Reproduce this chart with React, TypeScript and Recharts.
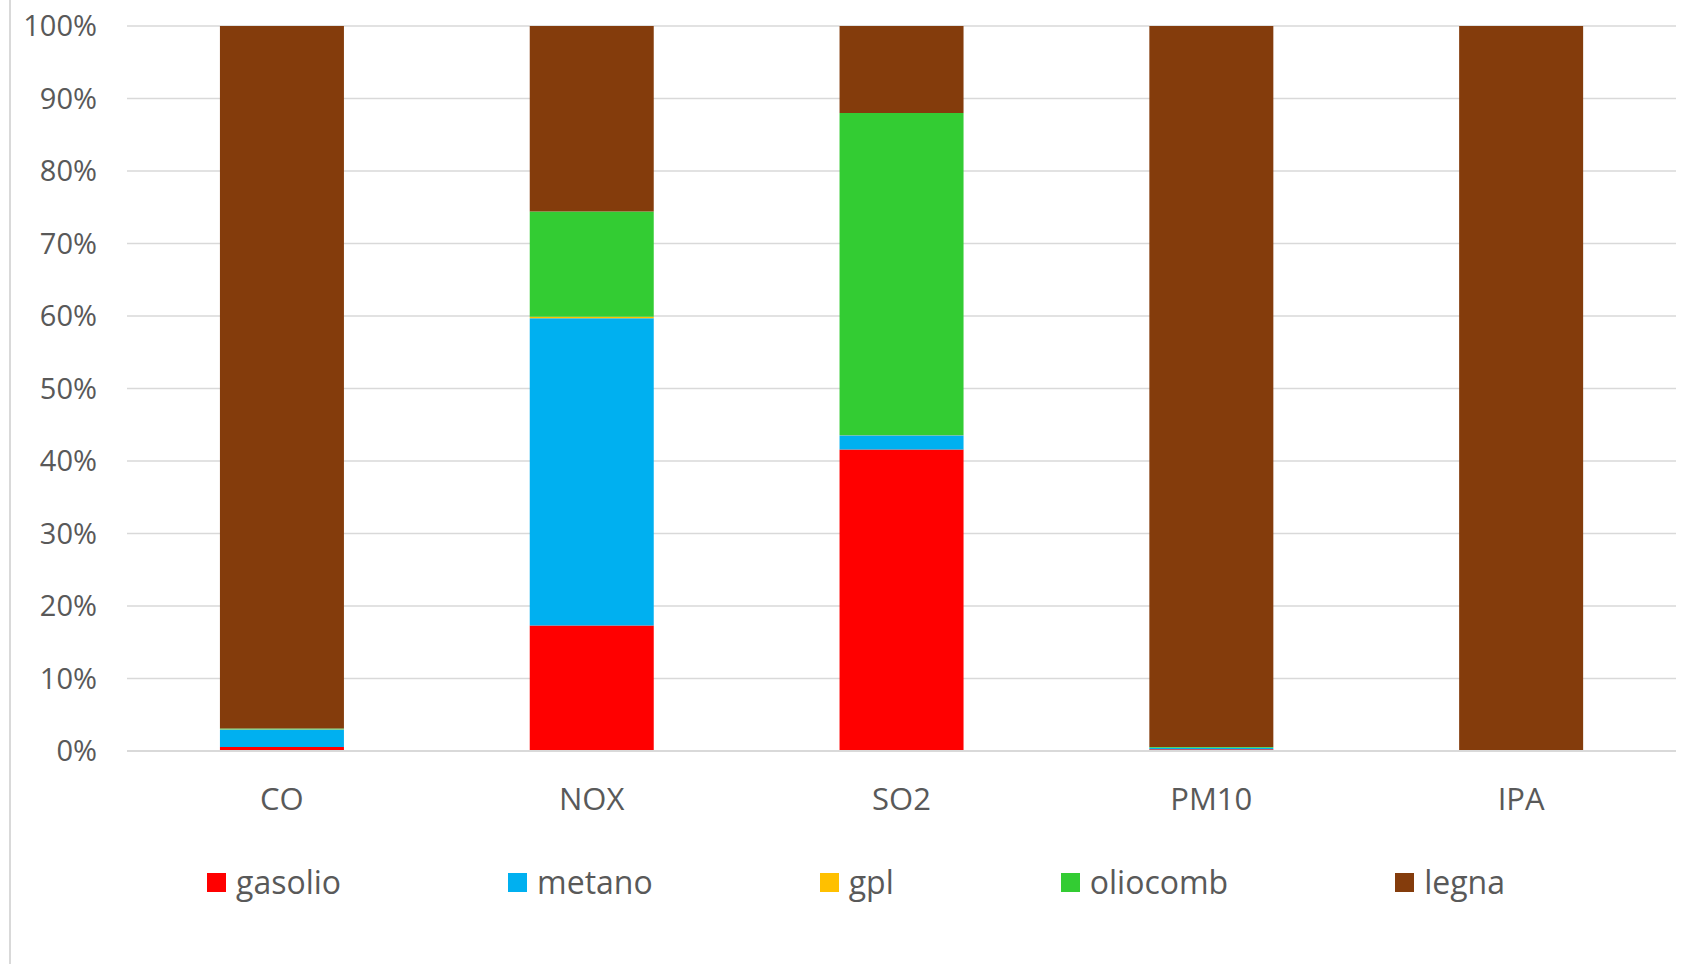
import { BarChart, Bar, XAxis, YAxis, CartesianGrid } from "recharts";

const CATEGORIES = ["CO", "NOX", "SO2", "PM10", "IPA"];

// percent shares per pollutant (100% stacked)
const GASOLIO = [0.55, 17.3, 41.6, 0.25, 0];
const METANO = [2.4, 42.4, 1.95, 0.2, 0];
const GPL = [0.05, 0.2, 0.05, 0, 0];
const OLIOCOMB = [0.1, 14.5, 44.4, 0.1, 0];
const LEGNA = [96.9, 25.6, 12.0, 99.45, 100];

const Y_TICKS = [0, 0.1, 0.2, 0.3, 0.4, 0.5, 0.6, 0.7, 0.8, 0.9, 1];

const SERIES = [
  { key: "gasolio", color: "#FF0000" },
  { key: "metano", color: "#00B0F0" },
  { key: "gpl", color: "#FFC000" },
  { key: "oliocomb", color: "#33CC33" },
  { key: "legna", color: "#843C0C" },
];

const data = CATEGORIES.map((name, i) => ({
  name,
  gasolio: GASOLIO[i],
  metano: METANO[i],
  gpl: GPL[i],
  oliocomb: OLIOCOMB[i],
  legna: LEGNA[i],
}));

const FONT = "'Open Sans', sans-serif";
const TEXT = "#595959";

function ChartLegend() {
  return (
    <div
      style={{
        position: "absolute",
        left: 207,
        top: 862,
        display: "flex",
        alignItems: "center",
        gap: 167,
        fontFamily: FONT,
      }}
    >
      {SERIES.map((s) => (
        <div key={s.key} style={{ display: "flex", alignItems: "center" }}>
          <span style={{ width: 19, height: 19, background: s.color, display: "inline-block", marginRight: 10 }} />
          <span style={{ fontSize: 32, color: TEXT, lineHeight: "40px" }}>{s.key}</span>
        </div>
      ))}
    </div>
  );
}

export default function App() {
  return (
    <div style={{ position: "absolute", left: 0, top: 0, width: 1683, height: 964, background: "#fff" }}>
      <div style={{ position: "absolute", left: 9, top: 0, width: 2, height: 964, background: "#d9d9d9" }} />
      <BarChart
        width={1683}
        height={964}
        data={data}
        stackOffset="expand"
        barCategoryGap="30%"
        margin={{ top: 26, right: 7, left: 0, bottom: 113 }}
      >
        <CartesianGrid vertical={false} stroke="#d9d9d9" strokeWidth={1.5} />
        <XAxis
          dataKey="name"
          axisLine={{ stroke: "#d9d9d9", strokeWidth: 2 }}
          tickLine={false}
          tickMargin={31}
          height={100}
          tick={{ fontSize: 31, fill: TEXT, fontFamily: FONT }}
        />
        <YAxis
          width={127}
          ticks={Y_TICKS}
          domain={[0, 1]}
          axisLine={false}
          tickLine={false}
          tickMargin={24}
          tickFormatter={(v: number) => `${Math.round(v * 100)}%`}
          tick={{ fontSize: 29, fill: TEXT, fontFamily: FONT }}
        />
        {SERIES.map((s) => (
          <Bar key={s.key} dataKey={s.key} stackId="a" fill={s.color} isAnimationActive={false} />
        ))}
      </BarChart>
      <ChartLegend />
    </div>
  );
}
